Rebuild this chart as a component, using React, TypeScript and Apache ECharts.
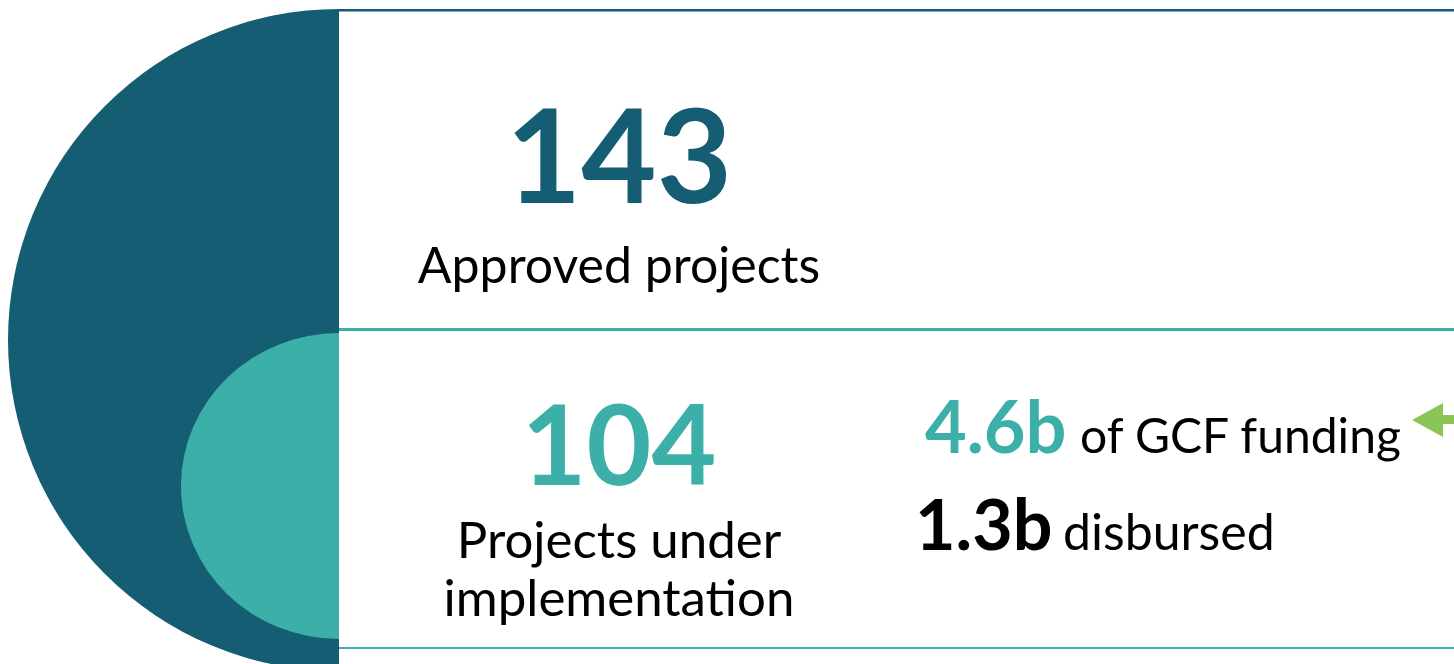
import React, { useEffect, useRef } from "react";
import * as echarts from "echarts";

const bigNumbers = ["143", "104"];
const bigLabels = [["Approved projects"], ["Projects under", "implementation"]];
const fundingValues = ["4.6b", "1.3b"];
const fundingLabels = ["of GCF funding", "disbursed"];

const DARK = "#155d73";
const TEAL = "#3cb0a8";
const GREEN = "#8bc556";
const FONT = "Lato, 'Open Sans', sans-serif";

export default function App() {
  const ref = useRef<HTMLDivElement>(null);
  useEffect(() => {
    document.body.style.margin = "0";
    const chart = echarts.init(ref.current!, null, { renderer: "svg" });
    const txt = (x: number, y: number, text: string, fill: string, font: string, align: string) => ({
      type: "text",
      x,
      y,
      style: { text, fill, font, textAlign: align, textVerticalAlign: "bottom" },
    });
    const graphic: any[] = [
      {
        type: "sector",
        shape: { cx: 339, cy: 340, r: 331, r0: 0, startAngle: Math.PI / 2, endAngle: (Math.PI * 3) / 2, clockwise: true },
        style: { fill: DARK },
        silent: true,
      },
      {
        type: "sector",
        x: 339,
        y: 486,
        scaleX: 158 / 153,
        shape: { cx: 0, cy: 0, r: 153, r0: 0, startAngle: Math.PI / 2, endAngle: (Math.PI * 3) / 2, clockwise: true },
        style: { fill: TEAL },
        silent: true,
      },
      { type: "rect", shape: { x: 339, y: 9, width: 1115, height: 2.5 }, style: { fill: DARK } },
      { type: "rect", shape: { x: 339, y: 328, width: 1115, height: 3 }, style: { fill: TEAL } },
      { type: "rect", shape: { x: 339, y: 647, width: 1115, height: 2 }, style: { fill: TEAL } },
      {
        type: "polygon",
        shape: { points: [[1412, 420], [1443, 403], [1443, 415], [1454, 415], [1454, 424], [1443, 424], [1443, 437]] },
        style: { fill: GREEN },
      },
      txt(619, 218, bigNumbers[0], DARK, `bold 130px ${FONT}`, "center"),
      txt(619, 289, bigLabels[0][0], "#000", `50px ${FONT}`, "center"),
      txt(619, 497, bigNumbers[1], TEAL, `bold 112px ${FONT}`, "center"),
      txt(619, 564, bigLabels[1][0], "#000", `51px ${FONT}`, "center"),
      txt(619, 622, bigLabels[1][1], "#000", `51px ${FONT}`, "center"),
      txt(925, 461, fundingValues[0], TEAL, `bold 72px ${FONT}`, "left"),
      txt(1080, 458, fundingLabels[0], "#000", `48px ${FONT}`, "left"),
      txt(915, 558, fundingValues[1], "#000", `bold 70px ${FONT}`, "left"),
      txt(1063, 556, fundingLabels[1], "#000", `50px ${FONT}`, "left"),
    ];
    chart.setOption({ animation: false, graphic });
    return () => chart.dispose();
  }, []);
  return <div ref={ref} style={{ position: "fixed", left: 0, top: 0, width: 1454, height: 664 }} />;
}
